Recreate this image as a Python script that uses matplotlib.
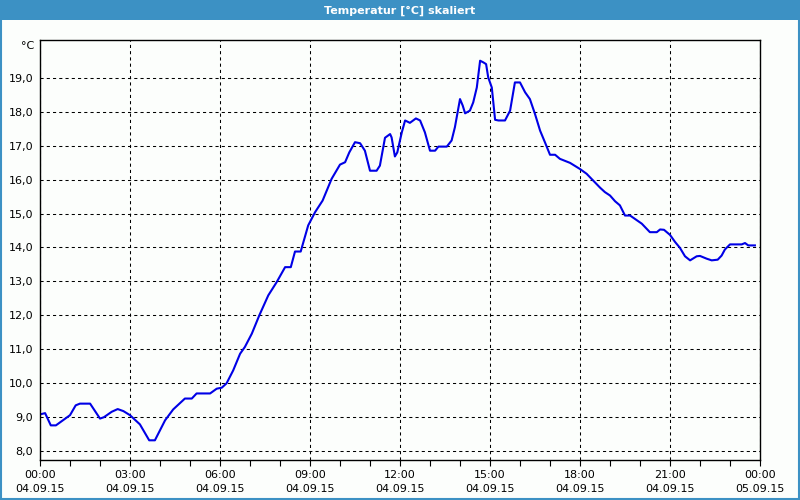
import numpy as np
import matplotlib
matplotlib.use("Agg")
import matplotlib.pyplot as plt
from matplotlib.patches import Rectangle

# Messwerte (Stunden ab 04.09.15 00:00, Temperatur in °C)
stunden = [0.00, 0.03, 0.17, 0.36, 0.53, 1.00, 1.19, 1.33, 1.67, 2.00, 2.13, 2.39, 2.59, 2.78,
           3.00, 3.33, 3.64, 3.83, 4.17, 4.44, 4.83, 5.06, 5.22, 5.67, 5.89, 6.06, 6.22, 6.44,
           6.67, 6.83, 7.06, 7.31, 7.61, 7.89, 8.17, 8.36, 8.50, 8.69, 8.94, 9.17, 9.42, 9.72,
           10.00, 10.17, 10.31, 10.50, 10.67, 10.83, 11.00, 11.22, 11.33, 11.50, 11.67, 11.72,
           11.83, 11.91, 12.06, 12.17, 12.33, 12.53, 12.67, 12.83, 13.00, 13.17, 13.28, 13.56,
           13.72, 13.83, 14.00, 14.09, 14.17, 14.33, 14.44, 14.56, 14.67, 14.78, 14.87, 14.94,
           15.06, 15.17, 15.28, 15.50, 15.67, 15.83, 16.00, 16.17, 16.33, 16.50, 16.67, 16.83,
           17.00, 17.17, 17.33, 17.67, 18.00, 18.22, 18.44, 18.67, 18.83, 19.00, 19.17, 19.33,
           19.50, 19.67, 19.83, 20.06, 20.22, 20.33, 20.56, 20.67, 20.80, 21.00, 21.17, 21.33,
           21.50, 21.67, 21.89, 22.00, 22.22, 22.39, 22.59, 22.72, 22.83, 23.00, 23.39, 23.50,
           23.61, 23.83]
temperatur = [9.08, 9.09, 9.12, 8.76, 8.76, 9.06, 9.35, 9.40, 9.40, 8.96, 9.00, 9.16, 9.24, 9.18,
              9.06, 8.79, 8.32, 8.32, 8.91, 9.23, 9.55, 9.55, 9.70, 9.70, 9.84, 9.87, 10.00, 10.38,
              10.87, 11.07, 11.46, 12.00, 12.59, 12.98, 13.42, 13.42, 13.88, 13.88, 14.65, 15.04, 15.38, 16.02,
              16.44, 16.51, 16.80, 17.10, 17.07, 16.85, 16.26, 16.26, 16.41, 17.23, 17.34, 17.24,
              16.68, 16.80, 17.39, 17.74, 17.67, 17.80, 17.74, 17.39, 16.85, 16.85, 16.97, 16.97,
              17.15, 17.54, 18.37, 18.18, 17.95, 18.03, 18.27, 18.71, 19.50, 19.45, 19.40, 19.01,
              18.71, 17.76, 17.74, 17.74, 18.03, 18.86, 18.86, 18.57, 18.37, 17.93, 17.44, 17.10,
              16.73, 16.73, 16.61, 16.49, 16.31, 16.17, 15.97, 15.76, 15.63, 15.53, 15.36, 15.24,
              14.94, 14.94, 14.84, 14.70, 14.55, 14.45, 14.45, 14.53, 14.52, 14.37, 14.16, 13.99,
              13.74, 13.62, 13.74, 13.75, 13.67, 13.62, 13.64, 13.76, 13.94, 14.09, 14.09, 14.13,
              14.06, 14.06]

x_ticks = [0, 3, 6, 9, 12, 15, 18, 21, 24]
x_labels = ["00:00\n04.09.15", "03:00\n04.09.15", "06:00\n04.09.15", "09:00\n04.09.15",
            "12:00\n04.09.15", "15:00\n04.09.15", "18:00\n04.09.15", "21:00\n04.09.15",
            "00:00\n05.09.15"]
y_ticks = [8, 9, 10, 11, 12, 13, 14, 15, 16, 17, 18, 19]
y_labels = [("%.1f" % v).replace(".", ",") for v in y_ticks]

blau_rahmen = "#3c91c4"

fig = plt.figure(figsize=(8, 5), dpi=100, facecolor="#fcfefc")

# Titelleiste und Rahmen
fig.patches.append(Rectangle((0, 0.96), 1, 0.04, transform=fig.transFigure,
                             facecolor=blau_rahmen, edgecolor="none", zorder=0))
fig.patches.append(Rectangle((0.001, 0.002), 0.998, 0.997, transform=fig.transFigure,
                             facecolor="none", edgecolor=blau_rahmen, linewidth=1.5, zorder=1))
fig.text(0.5, 0.979, "Temperatur [°C] skaliert", color="white", fontsize=8,
         fontweight="bold", ha="center", va="center")

ax = fig.add_axes([0.05, 0.08, 0.9, 0.84])
ax.set_facecolor("#fcfefc")
ax.plot(stunden, temperatur, color="#0000e6", linewidth=1.5)

ax.set_xlim(0, 24)
ax.set_ylim(7.74, 20.11)

ax.set_xticks(x_ticks)
ax.set_xticklabels(x_labels, fontsize=8, linespacing=1.5)
ax.set_xticks(np.arange(0, 25, 1), minor=True)
ax.set_yticks(y_ticks)
ax.set_yticklabels(y_labels, fontsize=8)

ax.tick_params(axis="x", which="both", direction="out", length=4, width=0.8, pad=3)
ax.tick_params(axis="y", length=0, pad=5)

ax.grid(True, which="major", color="black", linestyle=(0, (3, 3)), linewidth=0.75)
for s in ax.spines.values():
    s.set_linewidth(1.0)
    s.set_color("black")

ax.text(-0.008, 0.998, "°C", transform=ax.transAxes, fontsize=8, ha="right", va="top")

fig.savefig("out.png", dpi=100, facecolor=fig.get_facecolor())
